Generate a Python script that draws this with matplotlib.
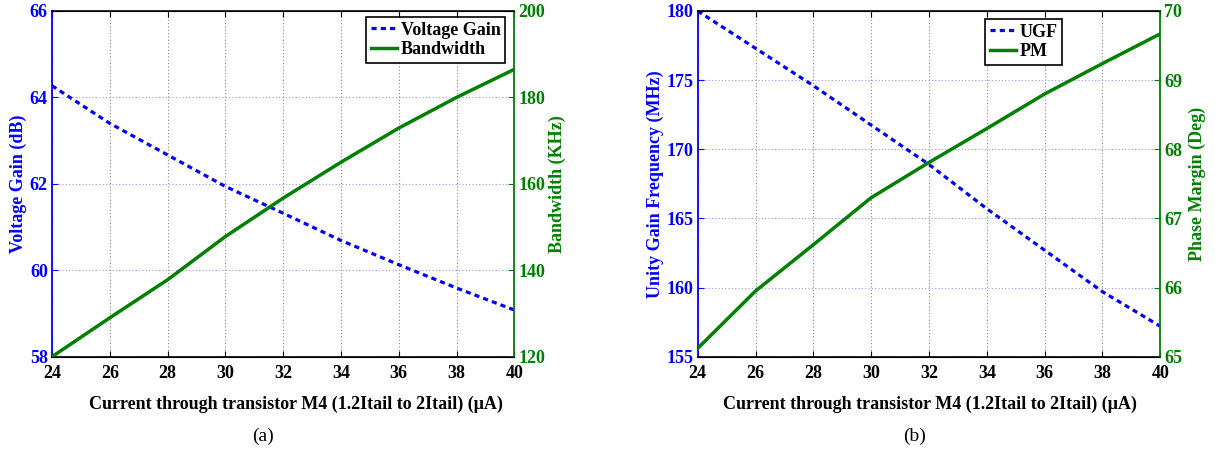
import matplotlib
matplotlib.use("Agg")
import matplotlib.pyplot as plt

plt.rcParams['font.family'] = ['Liberation Serif', 'DejaVu Serif']
plt.rcParams['font.weight'] = 'bold'

current = [24, 26, 28, 30, 32, 34, 36, 38, 40]
voltage_gain = [64.27, 63.40, 62.67, 61.94, 61.32, 60.69, 60.13, 59.59, 59.08]
bandwidth = [120.0, 129.0, 137.8, 147.8, 156.7, 165.0, 172.9, 180.0, 186.5]
ugf = [180.0, 177.3, 174.6, 171.75, 168.9, 165.7, 162.7, 159.7, 157.2]
pm = [65.12, 65.95, 66.62, 67.30, 67.81, 68.30, 68.80, 69.24, 69.67]

xticks = [24, 26, 28, 30, 32, 34, 36, 38, 40]
xlabel = 'Current through transistor M4 (1.2Itail to 2Itail) (\u03bcA)'

BLUE = '#0000ff'
GREEN = '#008000'
W, H = 1215, 450

fig = plt.figure(figsize=(W / 100, H / 100), dpi=100)


def panel(x0, x1, y1, y2, lim1, lim2, ticks1, ticks2, lab1, lab2, n1, n2,
          leg_xy, tag, tag_x, xlab_cx, ylab1_cx, ylab2_cx):
    top, bottom = 11, 356.7
    aw = x1 - x0
    ah = bottom - top
    ax = fig.add_axes([x0 / W, 1 - bottom / H, aw / W, ah / H])
    ax2 = ax.twinx()
    ax.plot(current, y1, color=BLUE, linestyle=(0, (1.6, 1.3)), linewidth=2.3,
            dash_capstyle='butt', label=n1)
    ax2.plot(current, y2, color=GREEN, linewidth=2.5, label=n2)
    ax.set_xlim(24, 40)
    ax.set_ylim(*lim1)
    ax2.set_ylim(*lim2)
    ax.set_xticks(xticks)
    ax.set_yticks(ticks1)
    ax2.set_yticks(ticks2)
    ax.tick_params(axis='x', labelsize=13, direction='in', length=4, pad=6, top=True)
    ax.tick_params(axis='y', labelsize=13, direction='in', length=4, colors=BLUE, pad=3)
    ax2.tick_params(axis='y', labelsize=13, direction='in', length=4, colors=GREEN, pad=3)
    for l in ax.get_xticklabels() + ax.get_yticklabels() + ax2.get_yticklabels():
        l.set_fontweight('bold')
    ax.xaxis.grid(True, color='#888888', linestyle=(0, (1, 2)), linewidth=0.8)
    ax.yaxis.grid(True, color='#9999ff', linestyle=(0, (1, 2)), linewidth=0.8)
    ax.spines['left'].set_color(BLUE)
    ax.spines['left'].set_linewidth(1.3)
    ax2.spines['left'].set_visible(False)
    ax2.spines['right'].set_color(GREEN)
    ax2.spines['right'].set_linewidth(1.3)
    ax.spines['right'].set_visible(False)
    ax.spines['top'].set_linewidth(1.2)
    ax.spines['bottom'].set_linewidth(1.2)

    ax.set_xlabel(xlabel, fontsize=13, fontweight='bold')
    ax.xaxis.label.set_va('baseline')
    ax.xaxis.set_label_coords((xlab_cx - x0) / aw, (bottom - 409) / ah)

    ax.set_ylabel(lab1, fontsize=13, fontweight='bold', color=BLUE)
    ax.yaxis.label.set_va('center')
    ax.yaxis.label.set_ha('center')
    ax.yaxis.set_label_coords((ylab1_cx - x0) / aw, 0.5)

    ax2.set_ylabel(lab2, fontsize=13, fontweight='bold', color=GREEN)
    ax2.yaxis.label.set_va('center')
    ax2.yaxis.label.set_ha('center')
    ax2.yaxis.set_label_coords((ylab2_cx - x0) / aw, 0.5)

    h1, l1 = ax.get_legend_handles_labels()
    h2, l2 = ax2.get_legend_handles_labels()
    leg = ax2.legend(h1 + h2, l1 + l2, loc='upper left',
                     bbox_to_anchor=(leg_xy[0] / W, 1 - leg_xy[1] / H),
                     bbox_transform=fig.transFigure,
                     fancybox=False, framealpha=1, edgecolor='black',
                     prop={'weight': 'bold', 'size': 13},
                     handlelength=1.45, handletextpad=0.22, borderpad=0.25,
                     labelspacing=0.15, borderaxespad=0)
    leg.get_frame().set_linewidth(1.2)
    fig.text(tag_x / W, 1 - 436 / H, tag, fontsize=14, ha='center', va='center',
             fontweight='normal')
    return ax, ax2


panel(52, 514.3, voltage_gain, bandwidth,
      (58, 66), (120, 200), [58, 60, 62, 64, 66], [120, 140, 160, 180, 200],
      'Voltage Gain (dB)', 'Bandwidth (KHz)', 'Voltage Gain', 'Bandwidth',
      (366, 17), '(a)', 263, 296, 18, 557)

panel(697.7, 1160.3, ugf, pm,
      (155, 180), (65, 70), [155, 160, 165, 170, 175, 180], [65, 66, 67, 68, 69, 70],
      'Unity Gain Frequency (MHz)', 'Phase Margin (Deg)', 'UGF', 'PM',
      (985, 19), '(b)', 915, 929.5, 655, 1197)

fig.savefig('out.png', dpi=100)
